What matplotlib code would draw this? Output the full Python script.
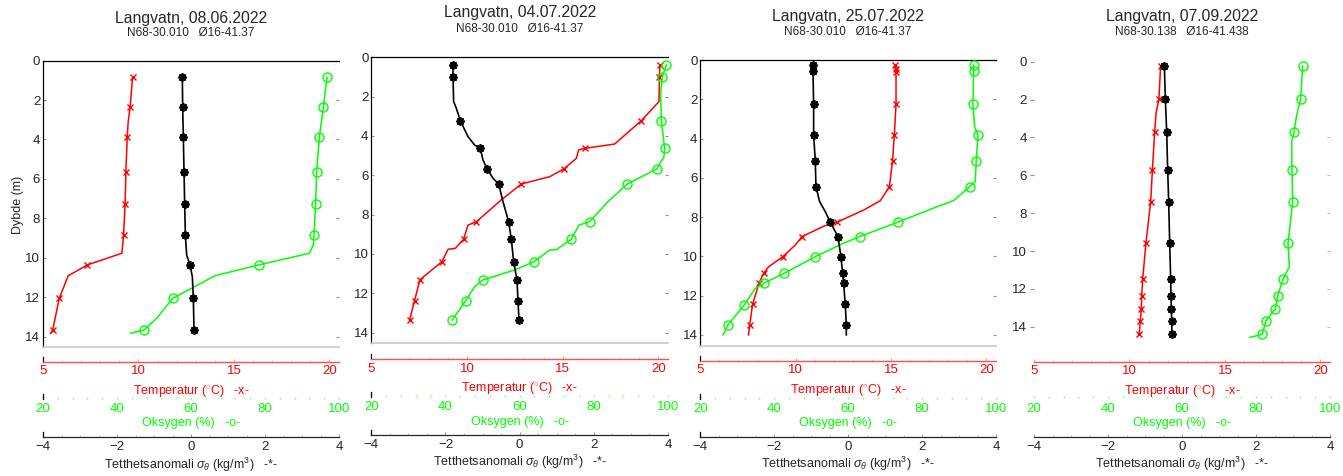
import matplotlib
matplotlib.use("Agg")
import matplotlib.pyplot as plt
from matplotlib.ticker import MultipleLocator, FixedLocator

plt.rcParams['font.family'] = ['Liberation Sans', 'DejaVu Sans']
plt.rcParams['mathtext.fontset'] = 'custom'
plt.rcParams['mathtext.rm'] = 'Liberation Sans'
plt.rcParams['mathtext.it'] = 'Liberation Sans:italic'
plt.rcParams['mathtext.bf'] = 'Liberation Sans:bold'

# ---------------- data ----------------
titles = ["Langvatn, 08.06.2022", "Langvatn, 04.07.2022", "Langvatn, 25.07.2022", "Langvatn, 07.09.2022"]
subtitles = ["N68-30.010   Ø16-41.37", "N68-30.010   Ø16-41.37", "N68-30.010   Ø16-41.37", "N68-30.138   Ø16-41.438"]

depth_ticks = [0, 2, 4, 6, 8, 10, 12, 14]
temp_ticks = [5, 10, 15, 20]
oxy_ticks = [20, 40, 60, 80, 100]
dens_ticks = [-4, -2, 0, 2, 4]

# Panel 1 (08.06.2022)
p1_temp_depth = [0.85, 2.37, 3.10, 3.89, 5.63, 7.27, 8.84, 9.77, 10.36, 10.91, 12.06, 13.66, 13.83]
p1_temp = [9.69, 9.56, 9.46, 9.41, 9.34, 9.30, 9.22, 9.13, 7.33, 6.32, 5.85, 5.51, 5.40]
p1_temp_marks = [0, 1, 3, 4, 5, 6, 8, 10, 11]
p1_oxy_depth = [0.85, 2.37, 3.89, 5.63, 7.27, 8.84, 9.35, 9.77, 10.36, 10.91, 12.06, 13.07, 13.66, 13.83]
p1_oxy = [96.76, 95.77, 94.68, 93.96, 93.69, 93.24, 93.06, 91.98, 78.38, 66.49, 55.05, 50.72, 47.30, 43.69]
p1_oxy_marks = [0, 1, 2, 3, 4, 5, 8, 10, 12]
p1_dens_depth = [0.85, 2.37, 3.89, 5.63, 7.27, 8.84, 9.86, 10.36, 10.96, 12.06, 13.66]
p1_dens = [-0.234, -0.225, -0.207, -0.189, -0.171, -0.153, -0.117, -0.027, 0.036, 0.063, 0.081]
p1_dens_marks = [0, 1, 2, 3, 4, 5, 7, 9, 10]

# Panel 2 (04.07.2022)
p2_temp_depth = [0.39, 0.98, 2.25, 3.22, 4.41, 4.63, 4.71, 5.14, 5.68, 6.07, 6.44, 7.25, 8.36, 8.53,
                 9.25, 9.71, 9.76, 10.39, 11.32, 11.69, 12.37, 13.36]
p2_temp = [20.08, 20.05, 20.03, 19.11, 17.71, 16.15, 15.83, 15.71, 15.05, 14.32, 12.84, 11.79, 10.49, 10.05,
           9.82, 9.39, 9.01, 8.69, 7.53, 7.44, 7.26, 7.00]
p2_temp_marks = [0, 1, 3, 5, 8, 10, 12, 14, 17, 18, 20, 21]
p2_oxy_depth = [0.39, 0.98, 1.83, 3.22, 4.63, 5.05, 5.68, 6.44, 7.34, 8.36, 8.53, 9.25, 9.78, 9.80,
                10.39, 10.81, 11.32, 11.66, 12.37, 13.36]
p2_oxy = [99.55, 98.47, 98.02, 98.20, 99.10, 98.92, 96.94, 89.03, 83.82, 78.88, 76.0, 73.93, 69.89, 68.09,
          63.87, 58.65, 50.11, 47.87, 45.44, 41.84]
p2_oxy_marks = [0, 1, 3, 4, 6, 7, 9, 11, 14, 16, 18, 19]
p2_dens_depth = [0.39, 0.98, 2.25, 2.59, 3.22, 4.03, 4.46, 4.63, 5.22, 5.68, 6.15, 6.44, 7.34, 8.36,
                 9.25, 10.39, 11.32, 12.37, 13.36]
p2_dens = [-1.798, -1.798, -1.780, -1.708, -1.600, -1.393, -1.213, -1.061, -0.989, -0.872, -0.719, -0.566,
           -0.449, -0.297, -0.225, -0.162, -0.072, -0.045, -0.018]
p2_dens_marks = [0, 1, 4, 7, 9, 11, 13, 14, 15, 16, 17, 18]

# Panel 3 (25.07.2022)
p3_temp_depth = [0.25, 0.45, 0.62, 2.25, 3.82, 5.12, 6.45, 7.16, 7.64, 8.26, 8.43, 8.99, 9.42, 10.01,
                 10.53, 10.86, 11.29, 11.37, 11.80, 12.44, 13.49, 14.0]
p3_temp = [15.22, 15.26, 15.26, 15.26, 15.17, 15.08, 14.91, 14.44, 13.56, 12.16, 11.55, 10.33, 9.98, 9.33,
           8.58, 8.32, 8.11, 8.08, 7.94, 7.74, 7.59, 7.53]
p3_temp_marks = [0, 1, 2, 3, 4, 5, 6, 9, 11, 13, 15, 17, 19, 20]
p3_oxy_depth = [0.25, 0.56, 2.25, 3.39, 3.82, 5.12, 6.19, 6.45, 7.16, 7.47, 8.26, 8.99, 9.33, 10.01,
                10.86, 11.37, 11.63, 12.47, 13.49, 14.0]
p3_oxy = [93.94, 93.94, 93.76, 94.21, 95.11, 94.66, 94.39, 92.86, 88.53, 84.02, 73.38, 63.10, 58.77, 51.11,
          42.72, 37.13, 34.88, 31.90, 27.48, 26.13]
p3_oxy_marks = [0, 1, 2, 4, 5, 7, 10, 11, 13, 14, 15, 17, 18]
p3_dens_depth = [0.25, 0.56, 2.26, 3.82, 5.12, 6.45, 7.21, 7.72, 8.26, 8.99, 10.01, 10.86, 11.37, 12.44,
                 13.49, 14.0]
p3_dens = [-0.952, -0.952, -0.934, -0.934, -0.889, -0.871, -0.772, -0.619, -0.483, -0.276, -0.195, -0.150,
           -0.123, -0.078, -0.050, -0.050]
p3_dens_marks = [0, 1, 2, 3, 4, 5, 8, 9, 10, 11, 12, 13, 14]

# Panel 4 (07.09.2022)
p4_temp_depth = [0.23, 1.97, 2.73, 3.70, 5.72, 7.39, 8.80, 9.60, 11.50, 12.36, 13.06, 13.68, 14.40]
p4_temp = [11.63, 11.54, 11.39, 11.32, 11.20, 11.11, 10.95, 10.86, 10.69, 10.64, 10.62, 10.57, 10.51]
p4_temp_marks = [0, 1, 3, 4, 5, 7, 8, 9, 10, 11, 12]
p4_oxy_depth = [0.23, 1.97, 2.82, 3.73, 4.23, 5.72, 7.39, 8.98, 9.60, 10.83, 11.50, 12.36, 13.06, 13.68,
                14.40, 14.56]
p4_oxy = [92.61, 92.07, 90.99, 90.27, 89.64, 89.73, 89.91, 89.01, 88.65, 89.01, 87.30, 85.86, 85.23, 82.70,
          81.71, 78.38]
p4_oxy_marks = [0, 1, 3, 5, 6, 8, 10, 11, 12, 13, 14]
p4_dens_depth = [0.23, 1.97, 3.73, 5.72, 7.39, 9.60, 11.50, 12.36, 13.06, 13.68, 14.40]
p4_dens = [-0.477, -0.450, -0.414, -0.387, -0.360, -0.333, -0.306, -0.297, -0.288, -0.279, -0.270]
p4_dens_marks = [0, 1, 2, 3, 4, 5, 6, 7, 8, 9, 10]

panels_data = [
    (p1_temp_depth, p1_temp, p1_temp_marks, p1_oxy_depth, p1_oxy, p1_oxy_marks, p1_dens_depth, p1_dens, p1_dens_marks),
    (p2_temp_depth, p2_temp, p2_temp_marks, p2_oxy_depth, p2_oxy, p2_oxy_marks, p2_dens_depth, p2_dens, p2_dens_marks),
    (p3_temp_depth, p3_temp, p3_temp_marks, p3_oxy_depth, p3_oxy, p3_oxy_marks, p3_dens_depth, p3_dens, p3_dens_marks),
    (p4_temp_depth, p4_temp, p4_temp_marks, p4_oxy_depth, p4_oxy, p4_oxy_marks, p4_dens_depth, p4_dens, p4_dens_marks),
]

# ---------------- layout (pixels) ----------------
W, H = 1343, 476
# left, right, top, bottom of main axes, max depth
main_pos = [(43, 339, 60.6, 346.5, 14.5),
            (371.3, 668, 57.3, 342.5, 14.5),
            (700.3, 996, 60.1, 345.7, 14.55),
            (1034, 1330, 61.7, 345.7, 15.0)]
red_y = [362, 359.3, 361, 361.7]
green_y = [399, 396.7, 399, 398.3]
black_y = [436.7, 435, 436.7, 436.7]
title_y = [18, 13, 16, 16]
sub_y = [33, 29, 32, 32]
tlab_y = [391, 388.3, 390, 391]
olab_y = [423.3, 421.7, 423.3, 423.3]
dlab_y = [465, 462, 464, 464]

RED = '#ff0000'
GREEN = '#00ff00'
DARK = '#262626'
TICK_FS = 9.5

fig = plt.figure(figsize=(W / 100, H / 100), dpi=100)


def px_axes(l, r, t, b):
    return fig.add_axes([l / W, 1 - b / H, (r - l) / W, (b - t) / H])


TEMP_LIM = (5, 20.5)
OXY_LIM = (20, 100)
DENS_LIM = (-4, 4)

for i in range(4):
    l, r, t, b, dmax = main_pos[i]
    td, tv, tm, od, ov, om, dd, dv, dm = panels_data[i]
    ax = px_axes(l, r, t, b)
    ax.set_ylim(dmax, 0)
    ax.set_xticks([])
    ax.set_yticks(depth_ticks)
    ax.tick_params(axis='y', which='both', left=True, right=True, labelleft=True,
                   direction='in' if i < 3 else 'out', length=2.5, color='#909090',
                   labelsize=TICK_FS, labelcolor=DARK, pad=2)
    if i == 3:
        ax.tick_params(axis='y', which='both', right=False)
        ax.yaxis.set_tick_params(length=3)
    for s in ax.spines.values():
        s.set_visible(False)
    if i < 3:
        ax.spines['top'].set_visible(True)
        ax.spines['top'].set_color('black')
        ax.spines['top'].set_linewidth(0.9)
        ax.spines['left'].set_visible(True)
        ax.spines['left'].set_color('black')
        ax.spines['left'].set_linewidth(0.9)
        ax.spines['bottom'].set_visible(True)
        ax.spines['bottom'].set_color('#c8c8c8')
        ax.spines['bottom'].set_linewidth(1.2)
    else:
        # right side short ticks
        axr = ax.twinx()
        axr.set_ylim(dmax, 0)
        axr.set_yticks(depth_ticks[2:])
        axr.tick_params(axis='y', direction='in', length=2.5, color='#c0c0c0', labelright=False)
        for s in axr.spines.values():
            s.set_visible(False)
    if i == 0:
        fig.text(18 / W, 1 - 205 / H, "Dybde (m)", rotation=90, ha='center', va='center',
                 fontsize=9, color=DARK)

    # plotting twins
    axT = ax.twiny()
    axT.set_xlim(*TEMP_LIM)
    axT.axis('off')
    axT.plot(tv, td, color=RED, lw=1.1, marker='x', ms=4.5, mew=1.0, markevery=tm, clip_on=False)
    axO = ax.twiny()
    axO.set_xlim(*OXY_LIM)
    axO.axis('off')
    axO.plot(ov, od, color=GREEN, lw=1.1, marker='o', ms=6.5, mfc='none', mew=1.0, markevery=om, clip_on=False)
    axD = ax.twiny()
    axD.set_xlim(*DENS_LIM)
    axD.axis('off')
    axD.plot(dv, dd, color='black', lw=1.2, marker=(8, 2, 0), ms=6, mew=1.3, markevery=dm, clip_on=False)

    cx = (l + r) / 2 / W
    fig.text(cx, 1 - title_y[i] / H, titles[i], ha='center', va='center', fontsize=11.3, color=DARK)
    fig.text(cx, 1 - sub_y[i] / H, subtitles[i], ha='center', va='center', fontsize=8.5, color=DARK)

    # red temperature axis
    ar = px_axes(l, r, red_y[i] - 5, red_y[i])
    ar.set_facecolor('none')
    ar.set_xlim(*TEMP_LIM)
    ar.set_yticks([])
    ar.xaxis.set_major_locator(FixedLocator(temp_ticks))
    ar.xaxis.set_minor_locator(MultipleLocator(1))
    for s in ar.spines.values():
        s.set_visible(False)
    ar.spines['bottom'].set_visible(True)
    ar.spines['bottom'].set_color('#ff5050')
    ar.spines['bottom'].set_linewidth(1.0)
    if i < 3:
        ar.spines['left'].set_visible(True)
        ar.spines['left'].set_color('black')
        ar.spines['left'].set_linewidth(0.9)
    ar.tick_params(axis='x', which='major', direction='in', length=2.5, color='#ff9a9a',
                   labelsize=TICK_FS, labelcolor=RED, pad=2.5)
    ar.tick_params(axis='x', which='minor', direction='in', length=1.5, color='#ffb0b0')
    fig.text(cx, 1 - tlab_y[i] / H, "Temperatur ($^{\\circ}$C)   -x-", ha='center', va='center',
             fontsize=9, color=RED)

    # green oxygen axis
    ag = px_axes(l, r, green_y[i] - 5, green_y[i])
    ag.set_facecolor('none')
    ag.set_xlim(*OXY_LIM)
    ag.set_yticks([])
    ag.xaxis.set_major_locator(FixedLocator(oxy_ticks))
    ag.xaxis.set_minor_locator(MultipleLocator(4))
    for s in ag.spines.values():
        s.set_visible(False)
    if i < 3:
        ag.spines['left'].set_visible(True)
        ag.spines['left'].set_color('black')
        ag.spines['left'].set_linewidth(0.9)
    ag.tick_params(axis='x', which='major', direction='in', length=1.5, width=1.0, color='#80ff80',
                   labelsize=TICK_FS, labelcolor=GREEN, pad=3.2)
    ag.tick_params(axis='x', which='minor', direction='in', length=1.2, width=1.0, color='#90ff90')
    fig.text(cx, 1 - olab_y[i] / H, "Oksygen (%)   -o-", ha='center', va='center',
             fontsize=9, color=GREEN)

    # black density axis
    ak = px_axes(l, r, black_y[i] - 5, black_y[i])
    ak.set_facecolor('none')
    ak.set_xlim(*DENS_LIM)
    ak.set_yticks([])
    ak.xaxis.set_major_locator(FixedLocator(dens_ticks))
    ak.xaxis.set_minor_locator(MultipleLocator(0.5))
    for s in ak.spines.values():
        s.set_visible(False)
    ak.spines['bottom'].set_visible(True)
    ak.spines['bottom'].set_color(DARK)
    ak.spines['bottom'].set_linewidth(0.9)
    if i < 3:
        ak.spines['left'].set_visible(True)
        ak.spines['left'].set_color('black')
        ak.spines['left'].set_linewidth(0.9)
    ak.tick_params(axis='x', which='major', direction='in', length=2.5, color='#a0a0a0',
                   labelsize=TICK_FS, labelcolor=DARK, pad=2.8)
    ak.tick_params(axis='x', which='minor', direction='in', length=1.5, color='#b8b8b8')
    fig.text(cx, 1 - dlab_y[i] / H, "Tetthetsanomali $\\sigma_{\\theta}$ (kg/m$^3$)   -*-",
             ha='center', va='center', fontsize=9, color=DARK)

fig.savefig("out.png", dpi=100)
